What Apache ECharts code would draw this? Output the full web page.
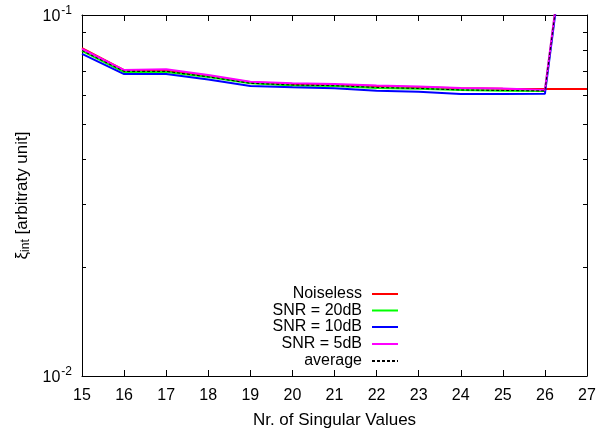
<!DOCTYPE html>
<html>
<head>
<meta charset="utf-8">
<script src="https://cdn.jsdelivr.net/npm/echarts@6/dist/echarts.min.js"></script>
<style>
  html, body { margin: 0; padding: 0; background: #fff; }
  #container { width: 599px; height: 435px; }
</style>
</head>
<body>
<div id="container"></div>
<script>
var xValues = [15, 16, 17, 18, 19, 20, 21, 22, 23, 24, 25, 26, 27];
var noiseless = [0.0810, 0.0704, 0.0702, 0.0678, 0.0651, 0.0644, 0.0640, 0.0636, 0.0631, 0.0627, 0.0625, 0.0624, 0.0624];
var snr20 = [0.0795, 0.0695, 0.0695, 0.0673, 0.0647, 0.0638, 0.0636, 0.0628, 0.0625, 0.0620, 0.0617, 0.0616, 0.49];
var snr10 = [0.0780, 0.0686, 0.0686, 0.0663, 0.0636, 0.0631, 0.0627, 0.0617, 0.0613, 0.0604, 0.0604, 0.0605, 0.48];
var snr5 = [0.0805, 0.0704, 0.0708, 0.0682, 0.0653, 0.0647, 0.0644, 0.0638, 0.0634, 0.0628, 0.0626, 0.0620, 0.50];
var average = [0.0797, 0.0698, 0.0698, 0.0674, 0.0647, 0.0640, 0.0637, 0.0630, 0.0626, 0.0620, 0.0618, 0.0616, 0.49];
var minorTicks = [0.02, 0.03, 0.04, 0.05, 0.06, 0.07, 0.08, 0.09];

var dom = document.getElementById("container");
var myChart = echarts.init(dom);
var font = 'Liberation Sans, Arial, Helvetica, sans-serif';

function pairs(arr) {
    return arr.map(function (v, i) { return [xValues[i], v]; });
}

var seriesDefs = [
    { name: 'Noiseless', data: noiseless, color: '#ff0000', width: 2, type: 'solid' },
    { name: 'SNR = 20dB', data: snr20, color: '#00ff00', width: 2, type: 'solid' },
    { name: 'SNR = 10dB', data: snr10, color: '#0000ff', width: 2, type: 'solid' },
    { name: 'SNR = 5dB', data: snr5, color: '#ff00ff', width: 2, type: 'solid' },
    { name: 'average', data: average, color: '#000000', width: 1, type: [3, 2] }
];
var legendCenters = [294, 310.5, 327, 344, 361];

var legends = seriesDefs.map(function (s, i) {
    return {
        data: [s.name],
        right: 200,
        top: legendCenters[i] - 8,
        align: 'right',
        itemWidth: 26,
        itemHeight: 14,
        itemGap: 0,
        padding: 0,
        selectedMode: false,
        itemStyle: { opacity: 0 },
        textStyle: { fontFamily: font, fontSize: 16, color: '#000', padding: [0, 5, 0, 0] }
    };
});

var supRich = {
    b: { fontFamily: font, fontSize: 16, color: '#000', padding: [4, 0, 0, 0] },
    s: { fontFamily: font, fontSize: 12, color: '#000', verticalAlign: 'top', padding: [0, 0, 6, 1] }
};

option = {
    animation: false,
    backgroundColor: '#fff',
    grid: { left: 82, right: 12, top: 15, bottom: 59 },
    legend: legends,
    xAxis: [{
        type: 'value',
        min: 15, max: 27, interval: 1,
        name: 'Nr. of Singular Values',
        nameLocation: 'middle',
        nameGap: 36,
        nameTextStyle: { fontFamily: font, fontSize: 17, color: '#000' },
        axisLine: { lineStyle: { color: '#000', width: 1 } },
        axisTick: { inside: true, length: 6, lineStyle: { color: '#000' } },
        axisLabel: { fontFamily: font, fontSize: 16, color: '#000', margin: 12 },
        splitLine: { show: false }
    }, {
        type: 'value',
        position: 'top',
        min: 15, max: 27, interval: 1,
        axisLine: { lineStyle: { color: '#000', width: 1 } },
        axisTick: { inside: true, length: 6, lineStyle: { color: '#000' } },
        axisLabel: { show: false },
        splitLine: { show: false }
    }],
    yAxis: [{
        type: 'log',
        logBase: 10,
        min: 0.01, max: 0.1,
        name: '{g|ξ}{sub|int} [arbitraty unit]',
        nameLocation: 'middle',
        nameGap: 50,
        nameTextStyle: {
            fontFamily: font, fontSize: 17, color: '#000',
            rich: {
                g: { fontFamily: font, fontSize: 17, color: '#000' },
                sub: { fontFamily: font, fontSize: 12, color: '#000', verticalAlign: 'bottom', padding: [7, 0, 0, 0] }
            }
        },
        axisLine: { lineStyle: { color: '#000', width: 1 } },
        axisTick: { inside: true, length: 6, lineStyle: { color: '#000' } },
        axisLabel: {
            margin: 10,
            formatter: function (v) {
                return '{b|10}{s|' + Math.round(Math.log10(v)) + '}';
            },
            rich: supRich
        },
        splitLine: { show: false }
    }, {
        type: 'log',
        logBase: 10,
        position: 'right',
        min: 0.01, max: 0.1,
        axisLine: { lineStyle: { color: '#000', width: 1 } },
        axisTick: { inside: true, length: 6, lineStyle: { color: '#000' } },
        axisLabel: { show: false },
        splitLine: { show: false }
    }],
    series: seriesDefs.map(function (s) {
        return {
            name: s.name,
            type: 'line',
            data: pairs(s.data),
            symbol: 'none',
            showSymbol: false,
            clip: true,
            color: s.color,
            lineStyle: { color: s.color, width: s.width, type: s.type }
        };
    })
};

if (option && typeof option === "object") {
    myChart.setOption(option, true);
}

// log minor ticks (2..9) on left and right axis
var tickGraphics = [];
minorTicks.forEach(function (t) {
    var pL = myChart.convertToPixel({ xAxisIndex: 0, yAxisIndex: 0 }, [15, t]);
    var pR = myChart.convertToPixel({ xAxisIndex: 0, yAxisIndex: 0 }, [27, t]);
    var y = Math.round(pL[1]) + 0.5;
    tickGraphics.push({ type: 'line', shape: { x1: pL[0], y1: y, x2: pL[0] + 4, y2: y }, style: { stroke: '#000', lineWidth: 1 }, silent: true });
    tickGraphics.push({ type: 'line', shape: { x1: pR[0], y1: y, x2: pR[0] - 4, y2: y }, style: { stroke: '#000', lineWidth: 1 }, silent: true });
});
myChart.setOption({ graphic: tickGraphics });
</script>
</body>
</html>
